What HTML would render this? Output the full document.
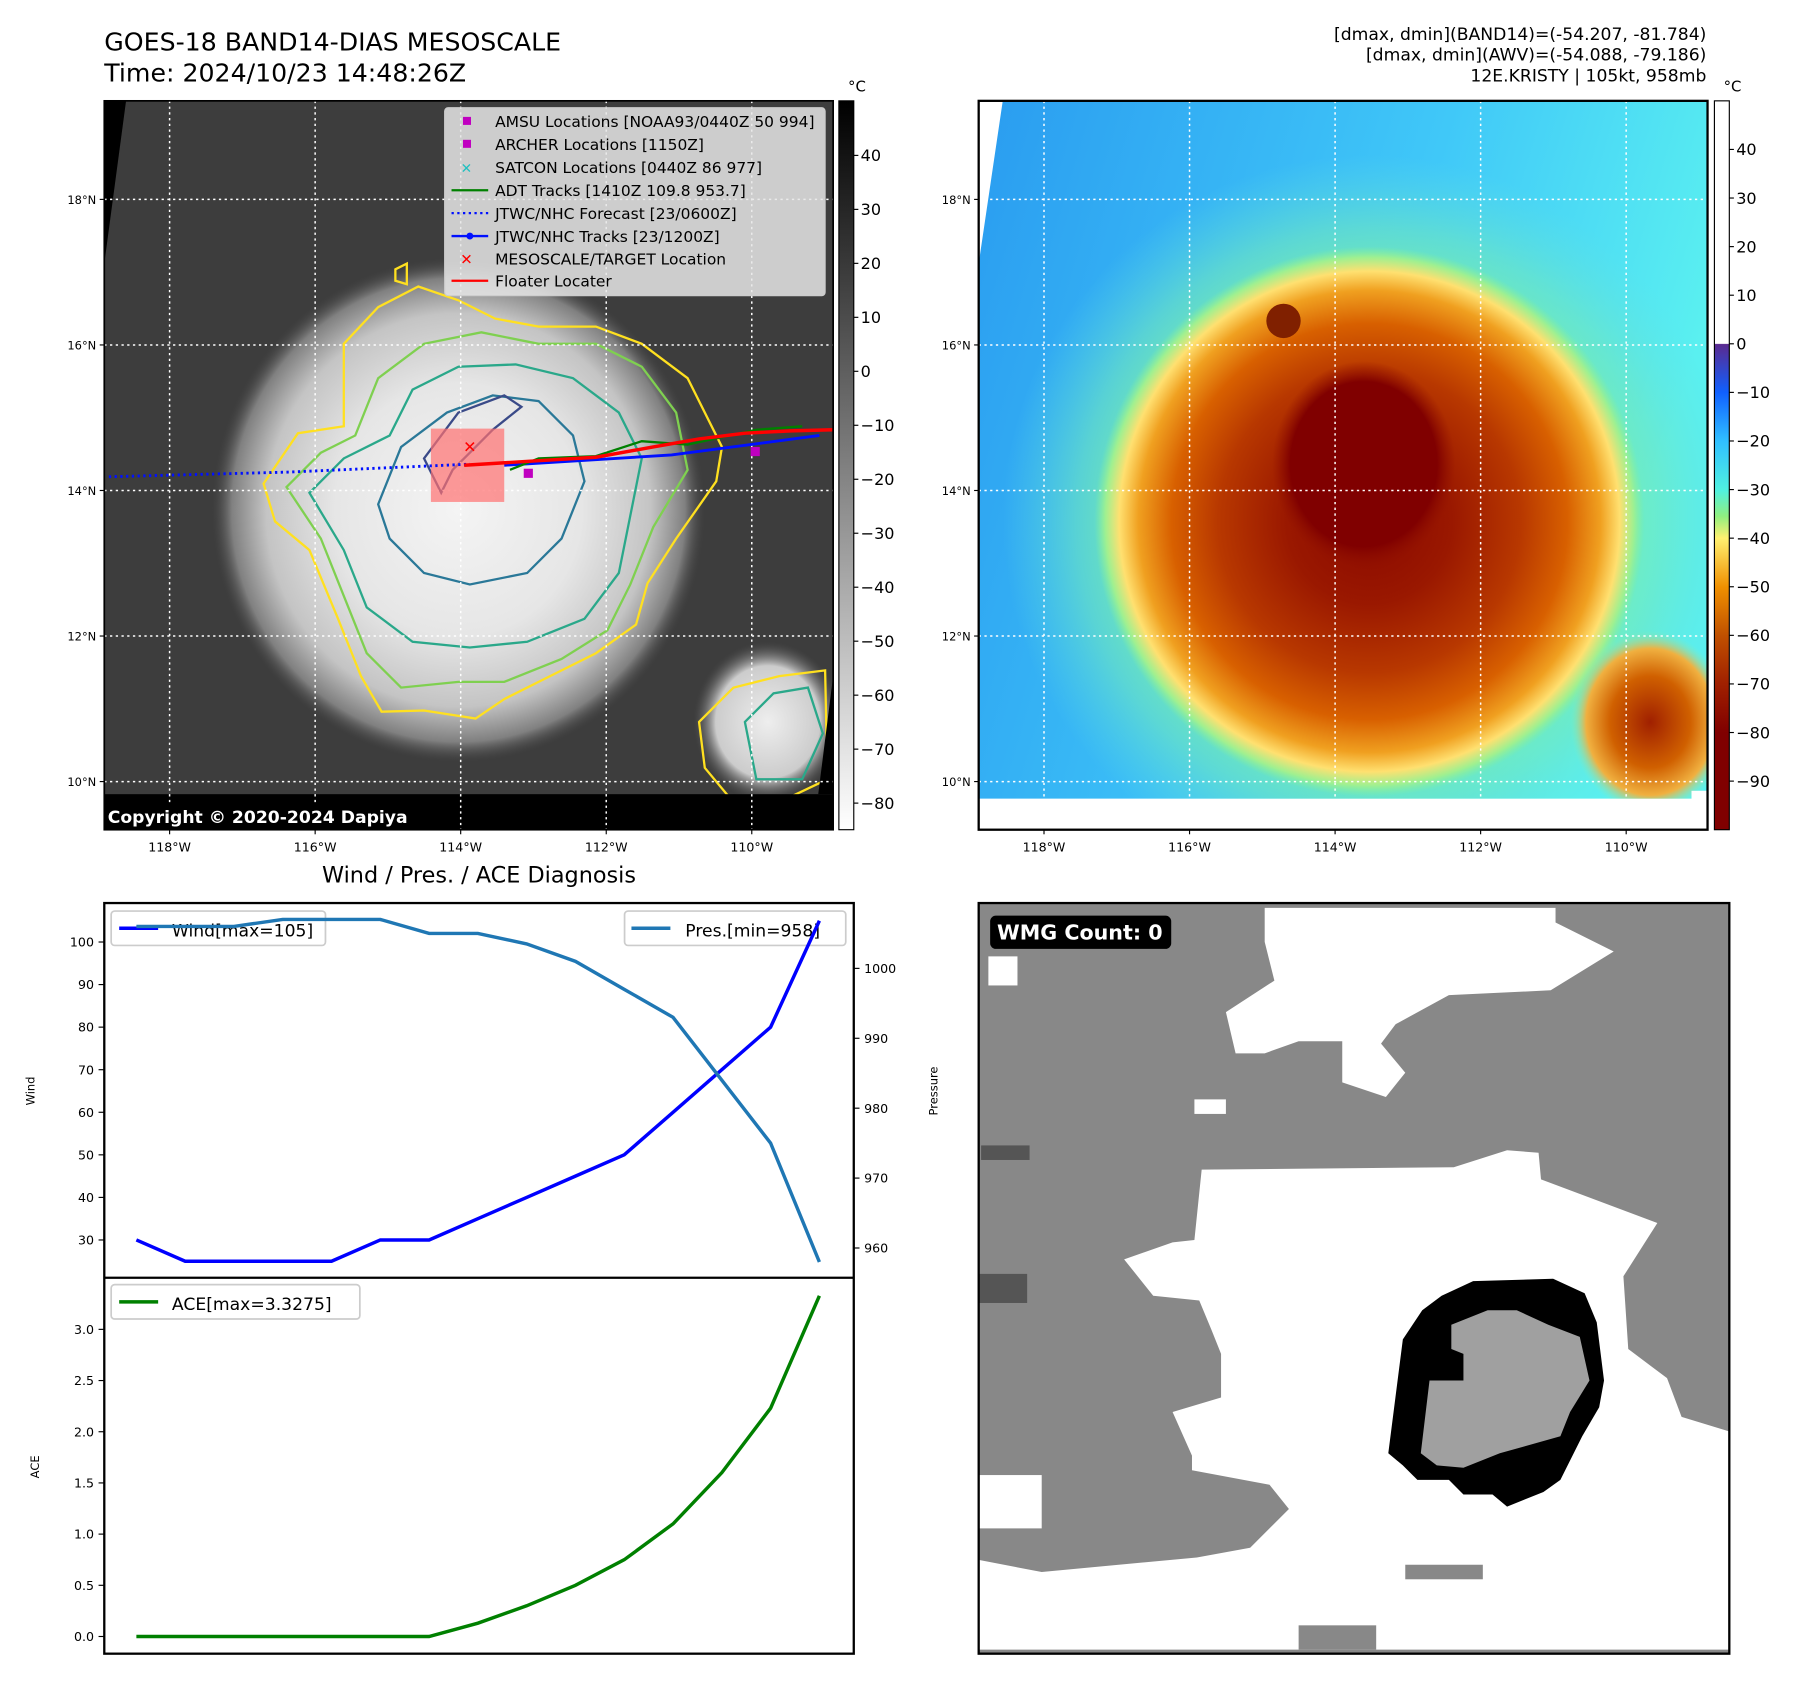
<!DOCTYPE html>
<html><head><meta charset="utf-8"><style>
html,body{margin:0;padding:0;background:#fff;width:1797px;height:1690px;overflow:hidden;font-family:"DejaVu Sans","Liberation Sans",sans-serif}
#root{position:absolute;left:0;top:0;width:1568px;height:1475px;transform:scale(1.1460);transform-origin:0 0}
svg text{font-family:"DejaVu Sans","Liberation Sans",sans-serif}
</style></head><body>
<div id="root">
<svg id="svg" width="1568" height="1475" viewBox="0 0 1568 1475" xmlns="http://www.w3.org/2000/svg">
<defs>
 <radialGradient id="storm" cx="0.5" cy="0.5" r="0.5">
  <stop offset="0" stop-color="#f4f4f4"/><stop offset="0.5" stop-color="#e6e6e6"/><stop offset="0.78" stop-color="#c4c4c4"/><stop offset="0.92" stop-color="#808080"/><stop offset="1" stop-color="#4a4a4a" stop-opacity="0"/>
 </radialGradient>
 <radialGradient id="blob2" cx="0.5" cy="0.5" r="0.5">
  <stop offset="0" stop-color="#eee"/><stop offset="0.7" stop-color="#ccc"/><stop offset="1" stop-color="#555" stop-opacity="0"/>
 </radialGradient>
 <linearGradient id="bwbar" x1="0" y1="0" x2="0" y2="1"><stop offset="0" stop-color="#000"/><stop offset="1" stop-color="#fff"/></linearGradient>
 <linearGradient id="colbar" x1="0" y1="0" x2="0" y2="1">
  <stop offset="0" stop-color="#fff"/><stop offset="0.333" stop-color="#fff"/>
  <stop offset="0.334" stop-color="#5a2a90"/><stop offset="0.4" stop-color="#1060ff"/><stop offset="0.467" stop-color="#30c0ff"/>
  <stop offset="0.534" stop-color="#50f0e0"/><stop offset="0.57" stop-color="#90f080"/><stop offset="0.6" stop-color="#fff070"/>
  <stop offset="0.667" stop-color="#f09000"/><stop offset="0.734" stop-color="#c05000"/><stop offset="0.8" stop-color="#a02000"/><stop offset="0.867" stop-color="#800000"/><stop offset="1" stop-color="#800000"/>
 </linearGradient>
 <linearGradient id="ocean" x1="0" y1="0" x2="1" y2="0.3"><stop offset="0" stop-color="#2a9cf0"/><stop offset="0.6" stop-color="#40c8f8"/><stop offset="1" stop-color="#5af0f0"/></linearGradient>
 <radialGradient id="halo" cx="0.5" cy="0.5" r="0.5">
  <stop offset="0.6" stop-color="#80f0a0"/><stop offset="0.8" stop-color="#70e8c0" stop-opacity="0.6"/><stop offset="1" stop-color="#60e0e0" stop-opacity="0"/>
 </radialGradient>
 <radialGradient id="hot" cx="0.5" cy="0.5" r="0.5">
  <stop offset="0" stop-color="#8a0800"/><stop offset="0.3" stop-color="#9a1800"/><stop offset="0.55" stop-color="#b83800"/><stop offset="0.72" stop-color="#d86000"/><stop offset="0.84" stop-color="#f0a020"/><stop offset="0.91" stop-color="#ffe070"/><stop offset="0.96" stop-color="#a0f090"/><stop offset="1" stop-color="#80f0a0" stop-opacity="0"/>
 </radialGradient>
 <radialGradient id="core" cx="0.5" cy="0.5" r="0.5">
  <stop offset="0" stop-color="#800000"/><stop offset="0.8" stop-color="#800000"/><stop offset="1" stop-color="#901000" stop-opacity="0"/>
 </radialGradient>
 <radialGradient id="hot2" cx="0.5" cy="0.5" r="0.5">
  <stop offset="0" stop-color="#a02000"/><stop offset="0.5" stop-color="#d06000"/><stop offset="0.8" stop-color="#f0b040"/><stop offset="1" stop-color="#80f0c0" stop-opacity="0"/>
 </radialGradient>
 <clipPath id="cl1"><rect x="91" y="88" width="636" height="636"/></clipPath>
 <clipPath id="cl2"><polygon points="875,88 1490,88 1490,690 1476,690 1476,697 854,697 854,230"/></clipPath>
 <clipPath id="cl3"><rect x="854" y="788" width="655" height="655"/></clipPath>
</defs>

<text x="91" y="44" font-size="22">GOES-18 BAND14-DIAS MESOSCALE</text>
<text x="91" y="71" font-size="22">Time: 2024/10/23 14:48:26Z</text>
<g font-size="15" text-anchor="end">
<text x="1489" y="35">[dmax, dmin](BAND14)=(-54.207, -81.784)</text>
<text x="1489" y="53">[dmax, dmin](AWV)=(-54.088, -79.186)</text>
<text x="1489" y="71">12E.KRISTY | 105kt, 958mb</text>
</g>

<!-- LEFT MAP -->
<g clip-path="url(#cl1)">
 <rect x="91" y="88" width="636" height="636" fill="#3d3d3d"/>
 <polygon points="91,88 110,88 91,230" fill="#000"/>
 <ellipse cx="400" cy="445" rx="215" ry="220" fill="url(#storm)"/>
 <ellipse cx="670" cy="630" rx="65" ry="70" fill="url(#blob2)"/>
 <polygon points="230,422 260,378 300,372 300,300 330,268 365,250 400,262 432,278 470,285 520,285 560,300 600,330 630,390 625,420 590,470 565,509 555,545 520,570 480,590 440,610 415,627 370,620 333,621 315,590 295,540 270,480 240,455" fill="none" stroke="#ffe020" stroke-width="2"/>
 <polygon points="250,425 280,395 310,380 330,330 370,300 420,290 470,300 520,300 560,320 590,360 600,410 570,460 550,510 530,550 490,575 440,595 400,595 350,600 320,570 300,520 280,470" fill="none" stroke="#7fd050" stroke-width="2"/>
 <polygon points="270,430 300,400 340,380 360,340 400,320 450,318 500,330 540,360 560,400 550,450 540,500 510,540 460,560 410,565 360,560 320,530 300,480" fill="none" stroke="#2aa88a" stroke-width="2"/>
 <polygon points="330,440 350,390 390,360 430,345 470,350 500,380 510,420 490,470 460,500 410,510 370,500 340,470" fill="none" stroke="#2a7898" stroke-width="2"/>
 <polygon points="370,400 400,360 440,345 455,355 430,375 410,395 395,410 385,430" fill="none" stroke="#3a4a88" stroke-width="2"/>
 <polygon points="610,630 640,600 680,590 720,585 722,680 680,700 640,700 615,670" fill="none" stroke="#ffe020" stroke-width="2"/>
 <polygon points="650,630 675,605 705,600 718,640 700,680 660,680" fill="none" stroke="#2aa88a" stroke-width="2"/>
 <polygon points="345,235 355,230 355,248 345,245" fill="none" stroke="#ffe020" stroke-width="2"/>
 <rect x="91" y="693" width="636" height="31" fill="#000"/>
 <polygon points="714,693 727,693 727,590" fill="#000"/>
 <g stroke="#fff" stroke-width="1.3" stroke-dasharray="2,3">
  <line x1="148" y1="88" x2="148" y2="724"/><line x1="275" y1="88" x2="275" y2="724"/><line x1="402" y1="88" x2="402" y2="724"/><line x1="529" y1="88" x2="529" y2="724"/><line x1="656" y1="88" x2="656" y2="724"/>
  <line x1="91" y1="174" x2="727" y2="174"/><line x1="91" y1="301" x2="727" y2="301"/><line x1="91" y1="428" x2="727" y2="428"/><line x1="91" y1="555" x2="727" y2="555"/><line x1="91" y1="682" x2="727" y2="682"/>
 </g>
 <rect x="376" y="374" width="64" height="64" fill="#ff7070" opacity="0.7"/>
 <polyline points="95,416 250,412 410,405" fill="none" stroke="#0010ff" stroke-width="2.5" stroke-dasharray="2,3"/>
 <polyline points="440,406 586,397 715,380" fill="none" stroke="#0010ff" stroke-width="2.5"/>
 <polyline points="445,410 470,400 520,398 560,385 600,388 660,375 700,372" fill="none" stroke="#008000" stroke-width="2"/>
 <polyline points="405,406 470,402 520,399 570,390 610,383 650,378 690,376 727,375" fill="none" stroke="#ff0000" stroke-width="3"/>
 <rect x="457" y="409" width="8" height="8" fill="#c000c0"/><rect x="655" y="390" width="8" height="8" fill="#c000c0"/>
 <text x="410" y="395" fill="#f00" font-size="14" text-anchor="middle">✕</text>
 <rect x="91" y="700" width="268" height="24" fill="#000" rx="3"/>
 <text x="94" y="718" fill="#fff" font-size="15" font-weight="bold">Copyright © 2020-2024 Dapiya</text>
</g>
<rect x="91" y="88" width="636" height="636" fill="none" stroke="#000" stroke-width="1.5"/>
<g>
 <rect x="388" y="94" width="332" height="164" rx="3" fill="#e6e6e6" fill-opacity="0.85" stroke="#ccc"/>
 <g font-size="13.5">
  <rect x="404" y="102" width="7" height="7" fill="#c000c0"/><text x="432" y="111">AMSU Locations [NOAA93/0440Z 50 994]</text>
  <rect x="404" y="122" width="7" height="7" fill="#c000c0"/><text x="432" y="131">ARCHER Locations [1150Z]</text>
  <text x="407" y="151" fill="#20c0c0" font-size="12" text-anchor="middle">✕</text><text x="432" y="151">SATCON Locations [0440Z 86 977]</text>
  <line x1="394" y1="166" x2="426" y2="166" stroke="#008000" stroke-width="2"/><text x="432" y="171">ADT Tracks [1410Z 109.8 953.7]</text>
  <line x1="394" y1="186" x2="426" y2="186" stroke="#0010ff" stroke-width="2" stroke-dasharray="2,3"/><text x="432" y="191">JTWC/NHC Forecast [23/0600Z]</text>
  <line x1="394" y1="206" x2="426" y2="206" stroke="#0010ff" stroke-width="2"/><circle cx="410" cy="206" r="3" fill="#0010ff"/><text x="432" y="211">JTWC/NHC Tracks [23/1200Z]</text>
  <text x="407" y="231" fill="#f00" font-size="13" text-anchor="middle">✕</text><text x="432" y="231">MESOSCALE/TARGET Location</text>
  <line x1="394" y1="245" x2="426" y2="245" stroke="#f00" stroke-width="2"/><text x="432" y="250">Floater Locater</text>
 </g>
</g>
<rect x="732" y="88" width="13" height="636" fill="url(#bwbar)" stroke="#000"/>
<text x="740" y="80" font-size="13">°C</text>
<g id="cb1" font-size="14"></g>

<!-- RIGHT MAP -->
<g>
 <rect x="854" y="88" width="636" height="636" fill="#fff"/>
 <g clip-path="url(#cl2)">
 <rect x="854" y="88" width="636" height="636" fill="url(#ocean)"/>
 <ellipse cx="1195" cy="455" rx="320" ry="320" fill="url(#halo)"/>
 <ellipse cx="1195" cy="455" rx="240" ry="240" fill="url(#hot)"/>
 <ellipse cx="1440" cy="630" rx="70" ry="80" fill="url(#hot2)"/>
 <ellipse cx="1190" cy="405" rx="80" ry="90" fill="url(#core)"/>
 <ellipse cx="1120" cy="280" rx="15" ry="15" fill="#802000"/>
 </g>
 <g stroke="#fff" stroke-width="1.3" stroke-dasharray="2,3">
  <line x1="911" y1="88" x2="911" y2="724"/><line x1="1038" y1="88" x2="1038" y2="724"/><line x1="1165" y1="88" x2="1165" y2="724"/><line x1="1292" y1="88" x2="1292" y2="724"/><line x1="1419" y1="88" x2="1419" y2="724"/>
  <line x1="854" y1="174" x2="1490" y2="174"/><line x1="854" y1="301" x2="1490" y2="301"/><line x1="854" y1="428" x2="1490" y2="428"/><line x1="854" y1="555" x2="1490" y2="555"/><line x1="854" y1="682" x2="1490" y2="682"/>
 </g>
</g>
<rect x="854" y="88" width="636" height="636" fill="none" stroke="#000" stroke-width="2"/>
<rect x="1496" y="88" width="13" height="636" fill="url(#colbar)" stroke="#000"/>
<text x="1504" y="80" font-size="13">°C</text>
<g id="cb2" font-size="14"></g>
<g id="maplabels" font-size="10"></g>

<text x="418" y="770" font-size="19.5" text-anchor="middle">Wind / Pres. / ACE Diagnosis</text>
<g id="chart"></g>

<g clip-path="url(#cl3)">
 <rect x="854" y="788" width="655" height="655" fill="#888"/>
 <g transform="translate(854,788) scale(0.423)">
  <polygon points="590,10 1190,10 1190,40 1310,100 1180,180 970,190 860,250 830,290 880,350 840,400 750,370 750,285 660,285 590,310 530,310 510,225 610,160 590,80" fill="#fff"/>
  <polygon points="460,550 980,545 1090,510 1155,515 1160,570 1400,660 1330,770 1340,920 1420,980 1450,1060 1548,1090 1548,1540 0,1540 0,1355 130,1380 450,1350 560,1330 640,1250 600,1200 440,1170 440,1140 400,1050 500,1020 500,930 480,880 455,820 360,810 300,735 400,700 445,695" fill="#fff"/>
  <rect x="0" y="1180" width="130" height="110" fill="#fff"/>
  <rect x="20" y="110" width="60" height="60" fill="#fff"/>
  <rect x="445" y="405" width="65" height="30" fill="#fff"/>
  <rect x="660" y="1490" width="160" height="50" fill="#888"/>
  <rect x="880" y="1365" width="160" height="30" fill="#888"/>
  <rect x="0" y="765" width="100" height="60" fill="#555"/>
  <rect x="5" y="500" width="100" height="30" fill="#555"/>
  <polygon points="1020,780 1185,775 1250,805 1275,865 1290,985 1280,1040 1245,1100 1200,1190 1165,1215 1090,1245 1060,1220 1000,1220 970,1190 905,1190 875,1160 845,1135 875,900 915,840 955,810" fill="#000"/>
  <polygon points="1050,840 1110,840 1175,870 1240,895 1260,985 1220,1050 1200,1100 1075,1135 1000,1165 945,1160 912,1135 930,985 1000,985 1000,930 975,920 975,870" fill="#a0a0a0"/>
 </g>
 <rect x="864" y="799" width="158" height="29" rx="5" fill="#000"/>
 <text x="870" y="820" font-size="18" font-weight="bold" fill="#fff">WMG Count: 0</text>
</g>
<rect x="854" y="788" width="655" height="655" fill="none" stroke="#000" stroke-width="2"/>
</svg>
</div>
<script>
const NS='http://www.w3.org/2000/svg';
const windValues=[30,25,25,25,25,30,30,35,40,45,50,60,70,80,105];
const presValues=[1006,1006,1006,1007,1007,1007,1005,1005,1003.5,1001,997,993,984,975,958];
const aceValues=[0,0,0,0,0,0,0,0.13,0.3,0.5,0.75,1.1,1.6,2.23,3.3275];
const windTicks=[30,40,50,60,70,80,90,100];
const presTicks=[960,970,980,990,1000];
const aceTicks=[0.0,0.5,1.0,1.5,2.0,2.5,3.0];
const grayTicks=[40,30,20,10,0,-10,-20,-30,-40,-50,-60,-70,-80];
const colorTicks=[40,30,20,10,0,-10,-20,-30,-40,-50,-60,-70,-80,-90];
const latTicks=['18°N','16°N','14°N','12°N','10°N'];
const lonTicks=['118°W','116°W','114°W','112°W','110°W'];

function el(tag,attrs,parent,txt){const e=document.createElementNS(NS,tag);for(const k in attrs)e.setAttribute(k,attrs[k]);if(txt!==undefined)e.textContent=txt;parent.appendChild(e);return e;}
const xS=i=>119+i*(715-119)/(windValues.length-1);
const yWind=v=>1082-(v-30)*(1082-822)/70;
const yPres=v=>1089-(v-960)*(1089-845)/40;
const yAce=v=>1428-v*(1428-1160)/3;
const yGray=v=>324-v*4.71;
const yColor=v=>300-v*4.24;

const cb1=document.getElementById('cb1');
grayTicks.forEach(v=>{const y=yGray(v);
 el('line',{x1:745,y1:y,x2:749,y2:y,stroke:'#000'},cb1);
 const t=el('text',{x:751,y:y+5},cb1,v<0?'\u2212'+(-v):String(v));
 
 });
const cb2=document.getElementById('cb2');
colorTicks.forEach(v=>{const y=yColor(v);
 el('line',{x1:1509,y1:y,x2:1513,y2:y,stroke:'#000'},cb2);
 const t=el('text',{x:1515,y:y+5},cb2,v<0?'\u2212'+(-v):String(v));
 
 });
const ml=document.getElementById('maplabels');
[0,763].forEach(off=>{
 latTicks.forEach((s,i)=>{const y=174+i*127;
  el('line',{x1:87+off,y1:y,x2:91+off,y2:y,stroke:'#000'},ml);
  const t=el('text',{x:84+off,y:y+4,'text-anchor':'end'},ml,s);
  
  });
 lonTicks.forEach((s,i)=>{const x=148+i*127+off;
  el('line',{x1:x,y1:724,x2:x,y2:728,stroke:'#000'},ml);
  const t=el('text',{x:x,y:743,'text-anchor':'middle','font-size':11},ml,s);
  
  });
});
const ch=document.getElementById('chart');
el('rect',{x:91,y:788,width:654,height:655,fill:'none',stroke:'#000','stroke-width':2},ch);
el('line',{x1:91,y1:1115,x2:745,y2:1115,stroke:'#000','stroke-width':2},ch);
windTicks.forEach(v=>{const y=yWind(v);el('line',{x1:86,y1:y,x2:91,y2:y,stroke:'#000'},ch);
 const t=el('text',{x:82,y:y+4,'text-anchor':'end','font-size':11},ch,String(v));
 
 });
presTicks.forEach(v=>{const y=yPres(v);el('line',{x1:745,y1:y,x2:750,y2:y,stroke:'#000'},ch);
 const t=el('text',{x:754,y:y+4,'font-size':11},ch,String(v));
 
 });
aceTicks.forEach(v=>{const y=yAce(v);el('line',{x1:86,y1:y,x2:91,y2:y,stroke:'#000'},ch);
 const t=el('text',{x:82,y:y+4,'text-anchor':'end','font-size':11},ch,v.toFixed(1));
 
 });
const wl=el('text',{x:0,y:0,'font-size':10,transform:'translate(30,952) rotate(-90)','text-anchor':'middle'},ch,'Wind');

const pl=el('text',{x:0,y:0,'font-size':10,transform:'translate(818,952) rotate(-90)','text-anchor':'middle'},ch,'Pressure');

const al=el('text',{x:0,y:0,'font-size':10,transform:'translate(34,1280) rotate(-90)','text-anchor':'middle'},ch,'ACE');

el('rect',{x:97,y:795,width:187,height:30,rx:3,fill:'#fff','fill-opacity':0.8,stroke:'#ccc','stroke-width':1.5},ch);
el('line',{x1:104,y1:810,x2:138,y2:810,stroke:'#0000ff','stroke-width':3},ch);
el('text',{x:150,y:817,'font-size':15},ch,'Wind[max=105]');
el('rect',{x:545,y:795,width:193,height:30,rx:3,fill:'#fff','fill-opacity':0.8,stroke:'#ccc','stroke-width':1.5},ch);
el('line',{x1:551,y1:810,x2:585,y2:810,stroke:'#1f77b4','stroke-width':3},ch);
el('text',{x:598,y:817,'font-size':15},ch,'Pres.[min=958]');
el('rect',{x:97,y:1121,width:217,height:30,rx:3,fill:'#fff','fill-opacity':0.8,stroke:'#ccc','stroke-width':1.5},ch);
el('line',{x1:104,y1:1136,x2:138,y2:1136,stroke:'#008000','stroke-width':3},ch);
el('text',{x:150,y:1143,'font-size':15},ch,'ACE[max=3.3275]');
const pw=el('polyline',{points:windValues.map((v,i)=>xS(i)+','+yWind(v)).join(' '),fill:'none',stroke:'#0000ff','stroke-width':3},ch);

const pp=el('polyline',{points:presValues.map((v,i)=>xS(i)+','+yPres(v)).join(' '),fill:'none',stroke:'#1f77b4','stroke-width':3},ch);

const pa=el('polyline',{points:aceValues.map((v,i)=>xS(i)+','+yAce(v)).join(' '),fill:'none',stroke:'#008000','stroke-width':3},ch);

</script>
</body></html>
